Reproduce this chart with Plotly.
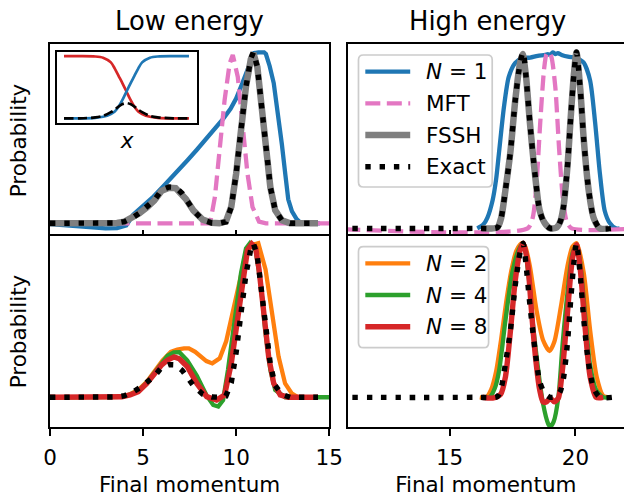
import plotly.graph_objects as go

FONT = "DejaVu Sans"

# ---------------- data: low energy (final momentum 0..15) ----------------
low_x_n1 = [0, 1, 2, 2.98, 3.6, 4.1, 4.47, 4.74, 5.5, 6.14, 6.84, 7.4, 7.89, 8.6, 9.3, 9.7,
            10.0, 10.3, 10.53, 10.75, 10.96, 11.2, 11.5, 11.6, 11.8, 12.02, 12.25, 12.46,
            12.65, 12.8, 13.0, 13.25, 13.5, 14.5]
low_y_n1 = [-0.005, -0.012, -0.02, -0.03, -0.028, -0.012, 0.05, 0.075, 0.15, 0.222, 0.30, 0.37,
            0.43, 0.52, 0.61, 0.67, 0.73, 0.81, 0.87, 0.94, 0.995, 1.0, 1.0, 0.99, 0.92, 0.82,
            0.65, 0.46, 0.28, 0.14, 0.07, 0.025, 0.0, 0.0]

low_x_mft = [0, 2, 4, 6, 8, 8.6, 8.86, 9.12, 9.38, 9.65, 9.82, 10.09, 10.35, 10.61, 10.88,
             11.23, 11.6, 13, 15]
low_y_mft = [0, 0, 0, 0, 0, 0.0, 0.154, 0.427, 0.72, 0.934, 0.985, 0.856, 0.563, 0.29, 0.095,
             0.01, 0, 0, 0]

low_x_fssh = [0, 1, 2, 3, 3.6, 4.0, 4.4, 4.8, 5.2, 5.6, 6.0, 6.4, 6.75, 7.1, 7.3, 7.7, 8.2,
              8.7, 9.1, 9.45, 9.74, 10.0, 10.26, 10.53, 10.79, 10.93, 11.14, 11.32, 11.58,
              11.84, 12.1, 12.46, 12.9, 13.5, 14.4]
low_y_fssh = [0, 0, 0, 0, 0.002, 0.01, 0.03, 0.058, 0.093, 0.133, 0.19, 0.208, 0.206, 0.172,
              0.142, 0.076, 0.022, 0.003, 0.0, 0.01, 0.097, 0.29, 0.54, 0.8, 0.96, 0.995,
              0.914, 0.72, 0.43, 0.21, 0.076, 0.018, 0.0, 0.0, 0.0]

low_x_exact = [0, 1, 2, 3, 3.6, 4.0, 4.4, 4.8, 5.2, 5.6, 6.0, 6.4, 6.75, 7.1, 7.3, 7.7, 8.2,
               8.7, 9.1, 9.45, 9.74, 10.0, 10.26, 10.53, 10.79, 10.93, 11.14, 11.32, 11.58,
               11.84, 12.1, 12.46, 12.9, 13.5, 14.4]
low_y_exact = [0, 0, 0, 0, 0.002, 0.01, 0.03, 0.06, 0.095, 0.135, 0.195, 0.212, 0.21, 0.175,
               0.143, 0.076, 0.02, 0.002, 0.0, 0.008, 0.095, 0.29, 0.544, 0.8, 0.963, 1.0,
               0.914, 0.72, 0.427, 0.212, 0.076, 0.018, 0.0, 0.0, 0.0]

low_x_n2 = [0, 2, 3.5, 3.86, 4.3, 4.74, 5.2, 5.61, 6.05, 6.49, 6.84, 7.2, 7.46, 7.8, 8.07,
            8.4, 8.72, 9.12, 9.47, 9.82, 10.18, 10.53, 10.88, 11.19, 11.58, 11.93, 12.28,
            12.63, 12.98, 13.33, 14.4]
low_y_n2 = [0, 0, 0, 0.003, 0.02, 0.047, 0.1, 0.166, 0.24, 0.295, 0.31, 0.318, 0.318, 0.295,
            0.264, 0.235, 0.22, 0.253, 0.365, 0.545, 0.76, 0.935, 0.99, 1.0, 0.83, 0.545,
            0.264, 0.09, 0.026, 0.0, 0.0]

low_x_n4 = [0, 2, 3.5, 3.86, 4.3, 4.74, 5.2, 5.61, 6.0, 6.32, 6.65, 6.95, 7.37, 7.89, 8.42,
            8.77, 9.04, 9.3, 9.56, 9.91, 10.26, 10.53, 10.74, 11.05, 11.32, 11.58, 11.84,
            12.1, 12.63, 15]
low_y_n4 = [0, 0, 0, 0.003, 0.018, 0.04, 0.095, 0.16, 0.225, 0.27, 0.292, 0.293, 0.24, 0.14,
            0.01, -0.05, -0.06, -0.018, 0.177, 0.5, 0.805, 0.967, 1.0, 0.955, 0.74, 0.416,
            0.177, 0.047, 0.0, 0.0]

low_x_n8 = [0, 2, 3.5, 3.86, 4.3, 4.74, 5.2, 5.61, 6.0, 6.32, 6.67, 6.95, 7.37, 7.89, 8.42,
            8.95, 9.38, 9.74, 10.09, 10.35, 10.61, 10.84, 11.05, 11.23, 11.49, 11.75, 12.02,
            12.37, 12.8, 14.4]
low_y_n8 = [0, 0, 0, 0.003, 0.015, 0.036, 0.09, 0.156, 0.21, 0.242, 0.262, 0.25, 0.2, 0.09,
            0.004, -0.018, 0.015, 0.22, 0.52, 0.78, 0.956, 0.995, 0.97, 0.83, 0.545, 0.26,
            0.09, 0.015, 0.0, 0.0]

# ---------------- data: high energy (final momentum 11..22) ----------------
high_x_n1 = [16.1, 16.33, 16.5, 16.71, 16.85, 16.97, 17.16, 17.35, 17.61, 17.87, 18.2, 18.5,
             18.8, 18.9, 19.0, 19.1, 19.2, 19.3, 19.45, 19.7, 20.0, 20.15, 20.33, 20.58,
             20.78, 20.97, 21.16, 21.36, 21.6, 21.75]
high_y_n1 = [0, 0.02, 0.06, 0.16, 0.28, 0.44, 0.69, 0.86, 0.94, 0.966, 0.97, 0.98, 0.985,
             0.99, 0.985, 1.0, 0.99, 0.995, 0.985, 0.975, 0.97, 0.96, 0.94, 0.84, 0.60, 0.31,
             0.10, 0.03, 0.0, 0.0]

high_x_mft = [10, 18.1, 18.3, 18.45, 18.6, 18.75, 18.85, 18.95, 19.05, 19.2, 19.35, 19.5,
              19.65, 19.85, 22.5]
high_y_mft = [0, 0, 0.06, 0.25, 0.6, 0.9, 0.99, 1.0, 0.97, 0.8, 0.45, 0.17, 0.04, 0, 0]

high_x_fssh = [16.3, 16.9, 17.05, 17.22, 17.42, 17.61, 17.8, 17.9, 18.03, 18.19, 18.39, 18.58,
               18.78, 19.0, 19.25, 19.4, 19.52, 19.68, 19.81, 19.94, 20.04, 20.19, 20.33,
               20.52, 20.72, 20.97, 21.3]
high_y_fssh = [0, 0.006, 0.06, 0.22, 0.44, 0.73, 0.94, 0.99, 0.87, 0.6, 0.31, 0.1, 0.03, 0.0,
               0.005, 0.04, 0.12, 0.35, 0.63, 0.88, 1.0, 0.79, 0.5, 0.22, 0.06, 0.0, 0.0]

high_x_exact = [10, 16.0, 16.9, 17.05, 17.22, 17.42, 17.61, 17.8, 17.92, 18.03, 18.19, 18.39,
                18.58, 18.78, 19.0, 19.25, 19.4, 19.52, 19.68, 19.81, 19.94, 20.04, 20.19,
                20.33, 20.52, 20.72, 20.97, 21.5]
high_y_exact = [0, 0, 0.005, 0.06, 0.22, 0.44, 0.73, 0.94, 1.0, 0.87, 0.6, 0.31, 0.1, 0.025,
                0.0, 0.005, 0.04, 0.12, 0.35, 0.63, 0.88, 1.0, 0.79, 0.5, 0.22, 0.06, 0.0, 0.0]

high_x_n2 = [16.2, 16.45, 16.65, 16.85, 17.05, 17.25, 17.45, 17.65, 17.87, 18.0, 18.19, 18.45,
             18.71, 18.97, 19.16, 19.42, 19.68, 19.88, 20.05, 20.33, 20.58, 20.84, 21.1, 21.36]
high_y_n2 = [0, 0.0, 0.05, 0.17, 0.38, 0.62, 0.82, 0.95, 1.0, 0.98, 0.85, 0.567, 0.372, 0.30,
             0.36, 0.588, 0.85, 0.978, 1.0, 0.805, 0.437, 0.134, 0.01, 0.0]

high_x_n4 = [16.3, 16.59, 16.8, 16.97, 17.22, 17.48, 17.74, 17.93, 18.13, 18.32, 18.52, 18.71,
             18.91, 19.0, 19.13, 19.32, 19.48, 19.68, 19.88, 20.04, 20.19, 20.39, 20.58,
             20.82, 21.1, 21.4]
high_y_n4 = [0, 0.0, 0.06, 0.177, 0.5, 0.8, 0.955, 1.0, 0.8, 0.46, 0.177, -0.04, -0.17, -0.19,
             -0.16, 0.0, 0.33, 0.675, 0.935, 0.99, 0.87, 0.52, 0.21, 0.047, 0.0, 0.0]

high_x_n8 = [16.3, 16.71, 17.03, 17.22, 17.42, 17.61, 17.81, 17.93, 18.1, 18.26, 18.41, 18.58,
             18.71, 18.84, 19.0, 19.16, 19.32, 19.48, 19.68, 19.88, 20.04, 20.19, 20.39,
             20.58, 20.82, 21.1]
high_y_n8 = [0, -0.005, 0.02, 0.134, 0.437, 0.76, 0.96, 1.0, 0.87, 0.545, 0.264, 0.047, -0.03,
             -0.03, -0.006, -0.03, -0.005, 0.177, 0.545, 0.9, 0.99, 0.83, 0.437, 0.134, 0.0,
             0.0]

# ---------------- data: inset (diabatic populations along x) ----------------
inset_x = [-4, -3, -2, -1.5, -1, -0.75, -0.5, -0.25, 0, 0.25, 0.5, 0.75, 1, 1.5, 2, 3, 4]
inset_red = [1, 1, 0.995, 0.975, 0.9, 0.8, 0.68, 0.56, 0.43, 0.3, 0.19, 0.11, 0.07, 0.025,
             0.008, 0, 0]
inset_blue = [0, 0, 0.008, 0.025, 0.07, 0.11, 0.19, 0.3, 0.43, 0.56, 0.68, 0.8, 0.9, 0.975,
              0.995, 1, 1]
inset_coupling = [0, 0, 0.015, 0.04, 0.1, 0.14, 0.19, 0.23, 0.245, 0.23, 0.19, 0.14, 0.1,
                  0.04, 0.015, 0, 0]

# ---------------- labels / ticks ----------------
col_titles = ["Low energy", "High energy"]
x_label = "Final momentum"
y_label = "Probability"
low_ticks = [0, 5, 10, 15]
high_ticks = [15, 20]
legend_top = ["<i>N</i> = 1", "MFT", "FSSH", "Exact"]
legend_bottom = ["<i>N</i> = 2", "<i>N</i> = 4", "<i>N</i> = 8"]

# ---------------- styles ----------------
C_BLUE, C_ORANGE, C_GREEN, C_RED = "#1f77b4", "#ff7f0e", "#2ca02c", "#d62728"
C_PINK, C_GRAY = "#e377c2", "#7f7f7f"
DOT = "5.4px,8.9px"
DASH = "15px,6.5px"
styles = {
    "n1": dict(color=C_BLUE, width=4.3),
    "mft": dict(color=C_PINK, width=4.3, dash=DASH),
    "fssh": dict(color=C_GRAY, width=6.5),
    "exact": dict(color="black", width=5.4, dash=DOT),
    "n2": dict(color=C_ORANGE, width=4.3),
    "n4": dict(color=C_GREEN, width=4.3),
    "n8": dict(color=C_RED, width=5.4),
}

# figure geometry (px)
W, H = 638, 500
ML, MR, MT, MB = 50, 0, 44, 73
PW, PH = W - ML - MR, H - MT - MB


def px_x(px):
    return (px - ML) / PW


def px_y(py):
    return (H - MB - py) / PH


fig = go.Figure()


def add_line(x, y, key, xa, ya, smooth=False):
    line = dict(styles[key])
    if smooth:
        line.update(shape="spline", smoothing=0.7)
    fig.add_trace(go.Scatter(x=x, y=y, mode="lines", xaxis=xa, yaxis=ya,
                             line=line, showlegend=False, hoverinfo="skip"))


# top-left: low energy, reference methods
add_line(low_x_n1, low_y_n1, "n1", "x", "y")
add_line(low_x_mft, low_y_mft, "mft", "x", "y")
add_line(low_x_fssh, low_y_fssh, "fssh", "x", "y")
add_line(low_x_exact, low_y_exact, "exact", "x", "y")
# top-right: high energy, reference methods
add_line(high_x_n1, high_y_n1, "n1", "x2", "y2", True)
add_line(high_x_mft, high_y_mft, "mft", "x2", "y2", True)
add_line(high_x_fssh, high_y_fssh, "fssh", "x2", "y2", True)
add_line(high_x_exact, high_y_exact, "exact", "x2", "y2", True)
# bottom-left: low energy, increasing N
add_line(low_x_n2, low_y_n2, "n2", "x3", "y3")
add_line(low_x_n4, low_y_n4, "n4", "x3", "y3")
add_line(low_x_n8, low_y_n8, "n8", "x3", "y3")
add_line(low_x_exact, low_y_exact, "exact", "x3", "y3")
# bottom-right: high energy, increasing N
add_line(high_x_n2, high_y_n2, "n2", "x4", "y4", True)
add_line(high_x_n4, high_y_n4, "n4", "x4", "y4", True)
add_line(high_x_n8, high_y_n8, "n8", "x4", "y4", True)
add_line(high_x_exact, high_y_exact, "exact", "x4", "y4", True)
# inset
for yy, st in [(inset_red, dict(color=C_RED, width=2.7)),
               (inset_blue, dict(color=C_BLUE, width=2.7)),
               (inset_coupling, dict(color="black", width=2.7, dash="9.5px,4px"))]:
    fig.add_trace(go.Scatter(x=inset_x, y=yy, mode="lines", xaxis="x5", yaxis="y5",
                             line=dict(st, shape="spline", smoothing=0.8),
                             showlegend=False, hoverinfo="skip"))

LW = 1.7
tickfont = dict(family=FONT, size=21.5, color="black")
titlefont = dict(family=FONT, size=21.5, color="black")

dom_left = [0, px_x(336)]
dom_right = [px_x(355), 1]
dom_top = [px_y(237), 1]
dom_bot = [0, px_y(236)]

common_x = dict(showline=True, linecolor="black", linewidth=LW, mirror=True,
                showgrid=False, zeroline=False, tickcolor="black", tickwidth=LW,
                ticklen=7, tickfont=tickfont)
common_y = dict(showline=True, linecolor="black", linewidth=LW, showgrid=False,
                zeroline=False, showticklabels=False, ticks="")

fig.update_layout(
    width=W, height=H,
    margin=dict(l=ML, r=MR, t=MT, b=MB),
    paper_bgcolor="white", plot_bgcolor="white",
    font=dict(family=FONT, color="black"),
    xaxis=dict(common_x, domain=dom_left, range=[0, 15], anchor="y", ticks="inside",
               tickvals=low_ticks, showticklabels=False),
    yaxis=dict(common_y, domain=dom_top, range=[-0.080, 1.0485], anchor="x", mirror=True,
               title=dict(text=y_label, font=titlefont, standoff=16)),
    xaxis2=dict(common_x, domain=dom_right, range=[10.957, 21.926], anchor="y2",
                ticks="inside", tickvals=high_ticks, showticklabels=False),
    yaxis2=dict(common_y, domain=dom_top, range=[-0.049, 1.047], anchor="x2", mirror=False),
    xaxis3=dict(common_x, domain=dom_left, range=[0, 15], anchor="y3", ticks="outside",
                tickvals=low_ticks, ticktext=[str(t) for t in low_ticks],
                ticklabelstandoff=3,
                title=dict(text=x_label, font=titlefont, standoff=8)),
    yaxis3=dict(common_y, domain=dom_bot, range=[-0.193, 1.047], anchor="x3", mirror=True,
                title=dict(text=y_label, font=titlefont, standoff=16)),
    xaxis4=dict(common_x, domain=dom_right, range=[10.957, 21.926], anchor="y4",
                ticks="outside", tickvals=high_ticks, ticktext=[str(t) for t in high_ticks],
                ticklabelstandoff=3,
                title=dict(text=x_label, font=titlefont, standoff=8)),
    yaxis4=dict(common_y, domain=dom_bot, range=[-0.193, 1.047], anchor="x4", mirror=False),
    xaxis5=dict(domain=[px_x(57), px_x(201)], range=[-4.46, 4.54], anchor="y5",
                showline=True, linecolor="black", linewidth=LW, mirror=True,
                showgrid=False, zeroline=False, showticklabels=False, ticks="",
                title=dict(text="<i>x</i>", font=titlefont, standoff=9)),
    yaxis5=dict(domain=[px_y(123), px_y(52)], range=[-0.075, 1.067], anchor="x5",
                showline=True, linecolor="black", linewidth=LW, mirror=True,
                showgrid=False, zeroline=False, showticklabels=False, ticks=""),
)

# column titles
for txt, cx in zip(col_titles, [193, 498]):
    fig.add_annotation(text=txt, xref="paper", yref="paper", x=px_x(cx), y=px_y(21),
                       xanchor="center", yanchor="middle", showarrow=False,
                       font=dict(family=FONT, size=25.8, color="black"))


# hand-drawn legends (rounded frame, line samples, labels)
def rounded_box(x0, y0, x1, y1, r=5):
    X0, X1 = px_x(x0), px_x(x1)
    Y0, Y1 = px_y(y0), px_y(y1)  # Y0 top, Y1 bottom in paper units
    rx, ry = r / PW, r / PH
    return (f"M{X0 + rx},{Y0} L{X1 - rx},{Y0} Q{X1},{Y0} {X1},{Y0 - ry} "
            f"L{X1},{Y1 + ry} Q{X1},{Y1} {X1 - rx},{Y1} L{X0 + rx},{Y1} "
            f"Q{X0},{Y1} {X0},{Y1 + ry} L{X0},{Y0 - ry} Q{X0},{Y0} {X0 + rx},{Y0} Z")


def legend(box, rows, labels, keys):
    x0, y0, x1, y1 = box
    fig.add_shape(type="path", path=rounded_box(x0, y0, x1, y1), xref="paper", yref="paper",
                  line=dict(color="#cccccc", width=1.7), fillcolor="rgba(255,255,255,0.8)",
                  layer="above")
    for ry, lab, key in zip(rows, labels, keys):
        st = styles[key]
        fig.add_shape(type="line", xref="paper", yref="paper",
                      x0=px_x(373), x1=px_x(419), y0=px_y(ry), y1=px_y(ry),
                      line=dict(color=st["color"], width=st["width"], dash=st.get("dash")),
                      layer="above")
        fig.add_annotation(text=lab, xref="paper", yref="paper", x=px_x(433), y=px_y(ry),
                           xanchor="left", yanchor="middle", showarrow=False,
                           font=dict(family=FONT, size=21.5, color="black"))


legend((366, 55, 503, 187), [71.7, 103.3, 135, 166.7], legend_top,
       ["n1", "mft", "fssh", "exact"])
legend((366, 246.7, 499.3, 347.7), [263.3, 295, 326.7], legend_bottom,
       ["n2", "n4", "n8"])

fig.write_html("out.html")
